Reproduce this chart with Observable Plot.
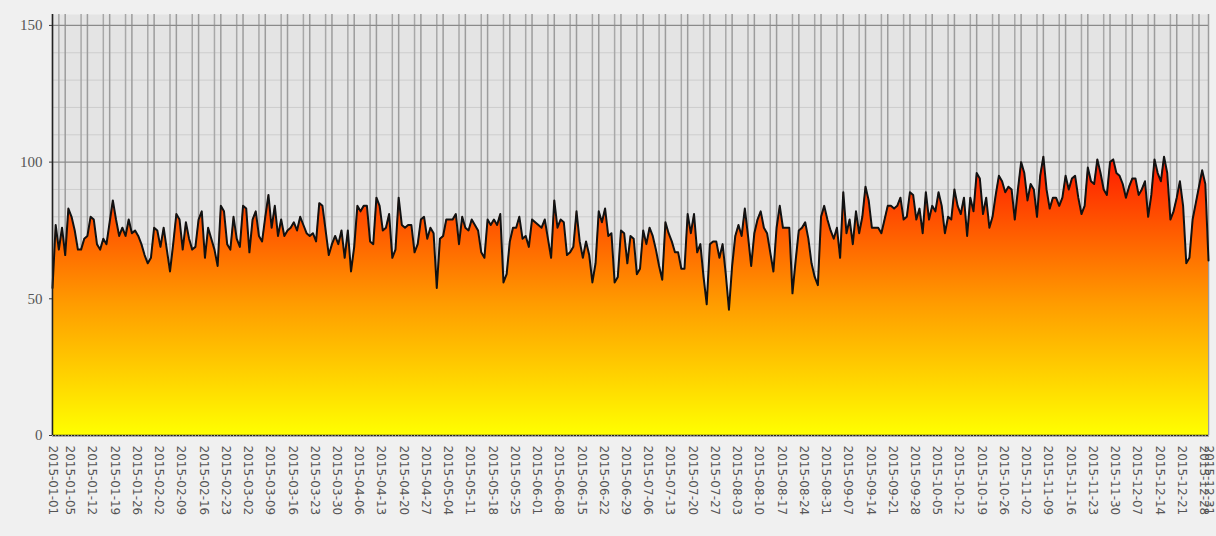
<!DOCTYPE html>
<html>
<head>
<meta charset="utf-8">
<script src="https://cdn.jsdelivr.net/npm/d3@7"></script>
<script src="https://cdn.jsdelivr.net/npm/@observablehq/plot@0.6"></script>
<style>
html, body { margin: 0; padding: 0; background: #f0f0f0; }
#chart svg { display: block; }
</style>
</head>
<body>
<div id="chart"></div>
<script>
// ---- data ----
const startDay = "2015-01-01";
const values = [
  54,77,68,76,66,83,80,75,68,68,
  72,73,80,79,70,68,72,70,78,86,
  79,73,76,73,79,74,75,73,70,66,
  63,65,76,75,69,76,68,60,70,81,
  79,68,78,72,68,69,79,82,65,76,
  72,68,62,84,82,70,68,80,72,69,
  84,83,67,79,82,73,71,80,88,76,
  84,73,79,73,75,76,78,75,80,77,
  74,73,74,71,85,84,75,66,70,73,
  70,75,65,75,60,69,84,82,84,84,
  71,70,87,84,75,76,81,65,68,87,
  77,76,77,77,67,70,79,80,72,76,
  74,54,72,73,79,79,79,81,70,80,
  76,75,79,77,75,67,65,79,77,79,
  77,81,56,59,71,76,76,80,72,73,
  69,79,78,77,76,79,72,65,86,76,
  79,78,66,67,69,82,71,65,71,66,
  56,63,82,78,83,73,74,56,58,75,
  74,63,73,72,59,61,75,70,76,73,
  68,62,57,78,74,71,67,67,61,61,
  81,74,81,67,70,58,48,70,71,71,
  65,70,59,46,62,73,77,73,83,73,
  62,74,79,82,76,74,67,60,76,84,
  76,76,76,52,64,75,76,78,72,63,
  58,55,80,84,79,75,72,76,65,89,
  74,79,70,82,74,80,91,86,76,76,
  76,74,79,84,84,83,84,87,79,80,
  89,88,79,83,74,89,79,84,82,89,
  84,74,80,79,90,84,81,87,73,87,
  82,96,94,81,87,76,80,88,95,93,
  89,91,90,79,90,100,96,86,92,90,
  80,95,102,90,83,87,87,84,87,95,
  90,94,95,87,81,84,98,93,92,101,
  96,90,88,100,101,96,95,92,87,91,
  94,94,88,90,93,80,88,101,96,93,
  102,96,79,82,87,93,84,63,65,79,
  85,91,97,92,64
];
const yTicks = [0, 50, 100, 150];
const yMinorTicks = [10, 20, 30, 40, 60, 70, 80, 90, 110, 120, 130, 140];
const yMax = 154;
const gradientStops = [
  {value: 0, color: "#ffff00"},
  {value: 48, color: "#ff9c00"},
  {value: 102, color: "#ff1800"}
];

// ---- derived ----
const start = new Date(startDay + "T00:00:00Z");
const data = values.map((v, i) => ({date: d3.utcDay.offset(start, i), value: v}));
const end = data[data.length - 1].date;
const after = d3.utcDay.offset(end, 1);
const mondays = d3.utcMonday.range(start, after);
const saturdays = d3.utcSaturday.range(start, after);
const days = d3.utcDay.range(start, after);
const xTickLabels = [start, ...mondays, end];
const fmt = d3.utcFormat("%Y-%m-%d");
const labelStyle = {frameAnchor: "bottom", rotate: 90, textAnchor: "start", dy: 10, text: d => fmt(d), fontSize: 12, fill: "#555"};

const plot = Plot.plot({
  width: 1216,
  height: 536,
  marginLeft: 52,
  marginRight: 8,
  marginTop: 14,
  marginBottom: 101,
  style: {background: "#f0f0f0", fontFamily: "DejaVu Sans", overflow: "visible"},
  x: {type: "utc", domain: [start, end], axis: null},
  y: {domain: [0, yMax], axis: null},
  marks: [
    Plot.frame({fill: "#e4e4e4", stroke: null}),
    Plot.ruleY(yMinorTicks, {stroke: "#cdcdcd", strokeWidth: 1}),
    Plot.ruleX(saturdays, {stroke: "#a8a8a8", strokeWidth: 1.5}),
    Plot.ruleX(xTickLabels, {stroke: "#9c9c9c", strokeWidth: 1.5}),
    Plot.ruleY(yTicks, {stroke: "#8a8a8a", strokeWidth: 1.3}),
    Plot.areaY(data, {x: "date", y: "value", fill: "url(#areaGrad)"}),
    Plot.lineY(data, {x: "date", y: "value", stroke: "#111", strokeWidth: 2, strokeLinejoin: "round"}),
    Plot.ruleX([start], {stroke: "#222", strokeWidth: 1.5}),
    Plot.ruleY([0], {stroke: "#222", strokeWidth: 1.5}),
    Plot.axisY({ticks: yTicks, tickSize: 3, tickPadding: 7, fontSize: 15, fontFamily: "Liberation Serif", fill: "#555", stroke: "#333", label: null}),
    Plot.axisX({ticks: days, tickSize: 2, tickPadding: 0, tickFormat: () => "", stroke: "#b0b0b0", label: null}),
    Plot.text(mondays, {x: d => d, lineAnchor: "bottom", dx: 1, ...labelStyle}),
    Plot.text([start], {x: d => d, lineAnchor: "middle", ...labelStyle}),
    Plot.text([end], {x: d => d, lineAnchor: "middle", ...labelStyle})
  ]
});

// gradient keyed to the y scale
const yScale = plot.scale("y");
const ns = "http://www.w3.org/2000/svg";
const defs = document.createElementNS(ns, "defs");
const grad = document.createElementNS(ns, "linearGradient");
grad.setAttribute("id", "areaGrad");
grad.setAttribute("gradientUnits", "userSpaceOnUse");
grad.setAttribute("x1", 0); grad.setAttribute("x2", 0);
const gy0 = yScale.apply(gradientStops[0].value);
const gy1 = yScale.apply(gradientStops[gradientStops.length - 1].value);
grad.setAttribute("y1", gy0); grad.setAttribute("y2", gy1);
for (const s of gradientStops) {
  const st = document.createElementNS(ns, "stop");
  st.setAttribute("offset", (yScale.apply(s.value) - gy0) / (gy1 - gy0));
  st.setAttribute("stop-color", s.color);
  grad.appendChild(st);
}
defs.appendChild(grad);
plot.insertBefore(defs, plot.firstChild);

document.getElementById("chart").appendChild(plot);
</script>
</body>
</html>
